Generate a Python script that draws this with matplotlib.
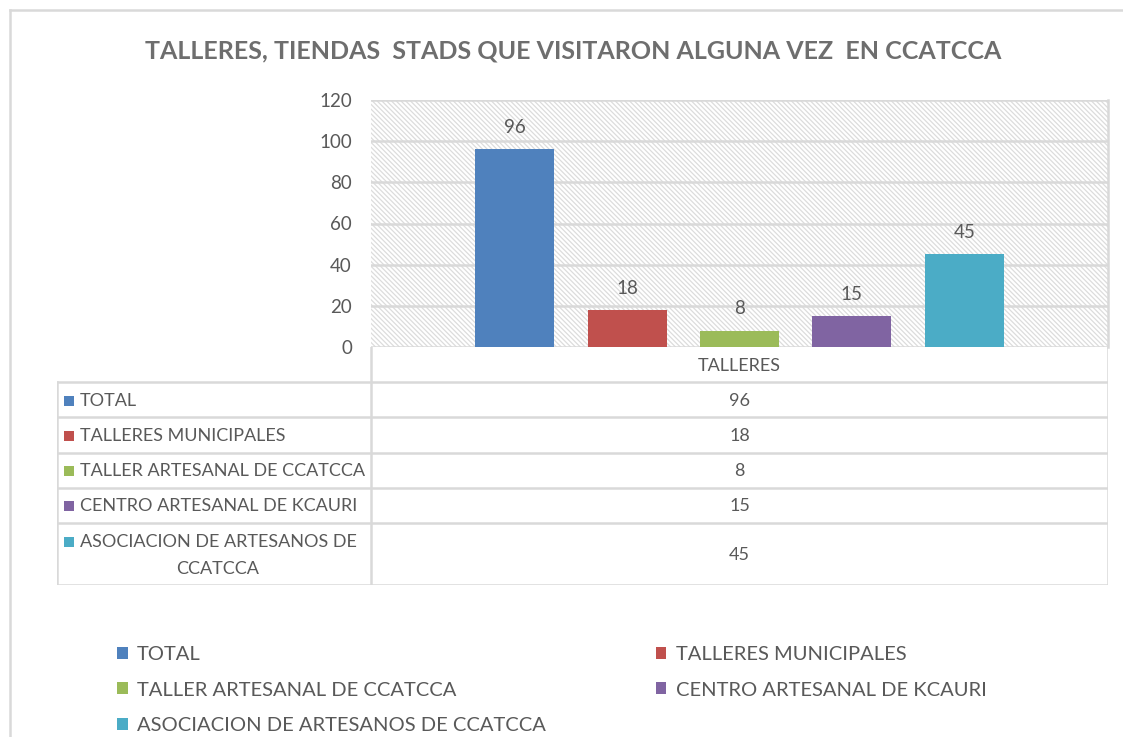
import matplotlib
matplotlib.use("Agg")
import matplotlib.pyplot as plt
from matplotlib.patches import Rectangle
from matplotlib.lines import Line2D
import textwrap

# ---------------- data ----------------
title = "TALLERES, TIENDAS  STADS QUE VISITARON ALGUNA VEZ  EN CCATCCA"
category = "TALLERES"
series = ["TOTAL", "TALLERES MUNICIPALES", "TALLER ARTESANAL DE CCATCCA",
          "CENTRO ARTESANAL DE KCAURI", "ASOCIACION DE ARTESANOS DE CCATCCA"]
values = [96, 18, 8, 15, 45]
colors = ["#4F81BD", "#C0504D", "#9BBB59", "#8064A2", "#4BACC6"]
yticks = [0, 20, 40, 60, 80, 100, 120]

# ---------------- style ----------------
W, H = 1123, 737
FONT = "Lato"
TXT = "#595959"
GRID = "#D9D9D9"
plt.rcParams['font.family'] = [FONT, 'DejaVu Sans']
plt.rcParams['hatch.linewidth'] = 0.9

fig = plt.figure(figsize=(W / 100, H / 100), dpi=100)
fig.patch.set_facecolor("white")

def fx(px):
    return px / W

def fy(py):
    return 1 - py / H

# outer chart border (top + left visible)
fig.add_artist(Line2D([fx(10), fx(1130)], [fy(10), fy(10)], color=GRID, lw=1.8, transform=fig.transFigure))
fig.add_artist(Line2D([fx(10), fx(10)], [fy(10), fy(745)], color=GRID, lw=1.8, transform=fig.transFigure))

# title
fig.text(fx(573), fy(51), title, ha="center", va="center", fontsize=18,
         fontweight="bold", color="#6E6E6E")

# ---------------- plot area ----------------
L, R, T, B = 371, 1108, 100, 347
ax = fig.add_axes([fx(L), fy(B), fx(R - L), (B - T) / H])
ax.set_xlim(-0.5, 0.5)
ax.set_ylim(0, 120)
bg = Rectangle((0, 0), 1, 1, transform=ax.transAxes, facecolor="white",
               edgecolor="#DCDCDC", hatch="\\" * 7, lw=0, zorder=0)
ax.add_patch(bg)
ax.set_facecolor("none")
for s in ["top", "bottom", "left"]:
    ax.spines[s].set_visible(False)
ax.spines["right"].set_color(GRID)
ax.spines["right"].set_linewidth(1.8)
ax.set_yticks(yticks)
ax.set_yticklabels([str(t) for t in yticks])
ax.tick_params(axis="y", length=0, pad=13.7, labelsize=13.5, labelcolor=TXT)
ax.set_xticks([])
ax.yaxis.grid(True, color=GRID, lw=1.8, zorder=1)
ax.set_axisbelow(True)

n = len(values)
step = 0.1525
width = 0.1072
for i, (v, c) in enumerate(zip(values, colors)):
    xpos = (i - (n - 1) / 2) * step
    ax.bar(xpos, v, width=width, color=c, zorder=3)
    ax.annotate(str(v), (xpos, v), xytext=(0, 9.5), textcoords="offset points",
                ha="center", va="bottom", fontsize=13.5, color=TXT)

# ---------------- data table ----------------
TL = 57
row_h = 35.2
wrapw = 27
TFS = 13
wrapped = [textwrap.wrap(s, wrapw) for s in series]
heights = [row_h * (1 if len(w) == 1 else 1.76) for w in wrapped]
TB = B + row_h + sum(heights)
tax = fig.add_axes([fx(TL), fy(TB), fx(R - TL), (TB - B) / H])
tax.set_xlim(TL, R)
tax.set_ylim(TB, B)
tax.axis("off")
lk = dict(color=GRID, lw=1.8, solid_capstyle="projecting")
mid = (L + R) / 2
# header row
tax.plot([L, L], [B, TB], **lk)
tax.plot([R, R], [B, TB], **lk)
tax.text(mid, B + row_h / 2 + 1, category, ha="center", va="center", fontsize=TFS, color=TXT)
y0 = B + row_h
tax.plot([TL, R], [y0, y0], **lk)
tax.plot([TL, TL], [y0, TB], **lk)
for lines, v, c, h in zip(wrapped, values, colors, heights):
    yc = y0 + h / 2
    first_y = y0 + row_h / 2 + 1 if len(lines) > 1 else yc + 1
    tax.add_patch(Rectangle((64, first_y - 5), 10, 10, facecolor=c, edgecolor="none"))
    tax.text(80, first_y, lines[0], ha="left", va="center", fontsize=TFS, color=TXT)
    for k, ln in enumerate(lines[1:], 1):
        tax.text((TL + L) / 2 + 4, first_y + k * 27, ln, ha="center", va="center",
                 fontsize=TFS, color=TXT)
    tax.text(mid, yc + 1, str(v), ha="center", va="center", fontsize=TFS, color=TXT)
    y0 += h
    tax.plot([TL, R], [y0, y0], **lk)

# ---------------- legend ----------------
handles = [Rectangle((0, 0), 1, 1, facecolor=c, edgecolor="none") for c in colors]
order = [0, 2, 4, 1, 3]
leg = fig.legend([handles[i] for i in order], [series[i] for i in order],
                 loc="upper left", bbox_to_anchor=(fx(117), fy(646)), ncol=2,
                 frameon=False, fontsize=14.5, handlelength=0.54, handleheight=0.54,
                 handletextpad=0.45, columnspacing=5.45, labelspacing=0.92,
                 borderaxespad=0, borderpad=0)
for t in leg.get_texts():
    t.set_color(TXT)

fig.savefig("out.png", dpi=100, facecolor="white")
